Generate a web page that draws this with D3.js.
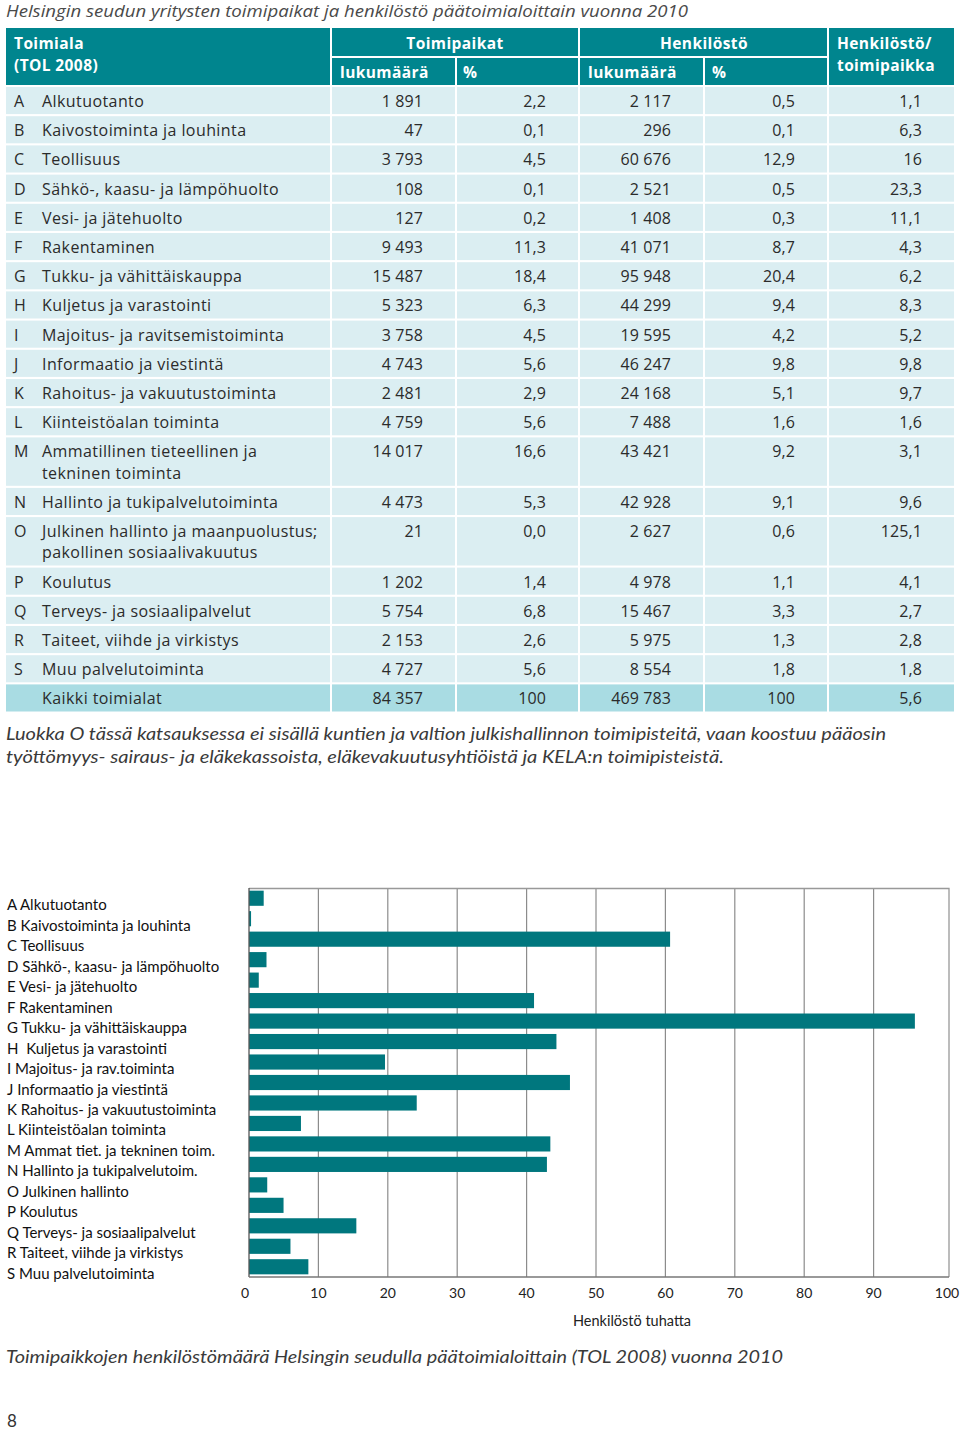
<!DOCTYPE html>
<html><head><meta charset="utf-8">
<script src="https://cdn.jsdelivr.net/npm/d3@7"></script>
<style>
body{margin:0;background:#fff;}
svg{display:block;}
</style></head><body>
<svg id="c" width="960" height="1431"></svg>
<script>
// ---------- DATA ----------
const codes = ["A","B","C","D","E","F","G","H","I","J","K","L","M","N","O","P","Q","R","S"];
const tableNames = [
  ["Alkutuotanto"],["Kaivostoiminta ja louhinta"],["Teollisuus"],["Sähkö-, kaasu- ja lämpöhuolto"],
  ["Vesi- ja jätehuolto"],["Rakentaminen"],["Tukku- ja vähittäiskauppa"],["Kuljetus ja varastointi"],
  ["Majoitus- ja ravitsemistoiminta"],["Informaatio ja viestintä"],["Rahoitus- ja vakuutustoiminta"],
  ["Kiinteistöalan toiminta"],["Ammatillinen tieteellinen ja","tekninen toiminta"],
  ["Hallinto ja tukipalvelutoiminta"],["Julkinen hallinto ja maanpuolustus;","pakollinen sosiaalivakuutus"],
  ["Koulutus"],["Terveys- ja sosiaalipalvelut"],["Taiteet, viihde ja virkistys"],["Muu palvelutoiminta"]
];
const toimipaikat = [1891,47,3793,108,127,9493,15487,5323,3758,4743,2481,4759,14017,4473,21,1202,5754,2153,4727];
const toimipaikatPct = [2.2,0.1,4.5,0.1,0.2,11.3,18.4,6.3,4.5,5.6,2.9,5.6,16.6,5.3,0.0,1.4,6.8,2.6,5.6];
const henkilosto = [2117,296,60676,2521,1408,41071,95948,44299,19595,46247,24168,7488,43421,42928,2627,4978,15467,5975,8554];
const henkilostoPct = [0.5,0.1,12.9,0.5,0.3,8.7,20.4,9.4,4.2,9.8,5.1,1.6,9.2,9.1,0.6,1.1,3.3,1.3,1.8];
const perToimipaikka = [1.1,6.3,16,23.3,11.1,4.3,6.2,8.3,5.2,9.8,9.7,1.6,3.1,9.6,125.1,4.1,2.7,2.8,1.8];
const totalLabel = "Kaikki toimialat";
const totals = [84357,100,469783,100,5.6];

const chartLabels = ["A Alkutuotanto","B Kaivostoiminta ja louhinta","C Teollisuus","D Sähkö-, kaasu- ja lämpöhuolto",
  "E Vesi- ja jätehuolto","F Rakentaminen","G Tukku- ja vähittäiskauppa","H  Kuljetus ja varastointi",
  "I Majoitus- ja rav.toiminta","J Informaatio ja viestintä","K Rahoitus- ja vakuutustoiminta",
  "L Kiinteistöalan toiminta","M Ammat tiet. ja tekninen toim.","N Hallinto ja tukipalvelutoim.",
  "O Julkinen hallinto","P Koulutus","Q Terveys- ja sosiaalipalvelut","R Taiteet, viihde ja virkistys","S Muu palvelutoiminta"];
const xTicks = [0,10,20,30,40,50,60,70,80,90,100];

const titleText = "Helsingin seudun yritysten toimipaikat ja henkilöstö päätoimialoittain vuonna 2010";
const noteLines = ["Luokka O tässä katsauksessa ei sisällä kuntien ja valtion julkishallinnon toimipisteitä, vaan koostuu pääosin",
  "työttömyys- sairaus- ja eläkekassoista, eläkevakuutusyhtiöistä ja KELA:n toimipisteistä."];
const chartCaption = "Toimipaikkojen henkilöstömäärä Helsingin seudulla päätoimialoittain (TOL 2008) vuonna 2010";
const axisTitle = "Henkilöstö tuhatta";
const pageNumber = "8";

// ---------- STYLE ----------
const TEAL = "#00858e", BAR = "#00777e", ROW = "#dbeef2", TOT = "#a9dce3", TXT = "#2b2b2b";
const TFONT = "'Open Sans', sans-serif";
const CFONT = "Lato, 'Noto Sans', sans-serif";

const svg = d3.select("#c");
const loc = d3.formatLocale({decimal: ",", thousands: " ", grouping: [3], currency: ["", ""]});
const fInt = loc.format(",d");
const fPct = v => v === 100 ? "100" : loc.format(".1f")(v);
const fRat = v => String(v).replace(".", ",");

// title
svg.append("text").attr("x", 6).attr("y", 17).text(titleText)
  .attr("font-family", TFONT).attr("font-style", "italic").attr("font-size", 15.5)
  .attr("fill", "#4a4a4a").attr("textLength", 682).attr("lengthAdjust", "spacingAndGlyphs");

// ---------- TABLE ----------
const cols = [[6,330],[332,455],[457,578],[580,703],[705,827],[829,954]];
const g = svg.append("g").attr("font-family", TFONT);
// header
const hdr = [
  {x0:6,x1:330,y0:28,y1:85},{x0:332,x1:578,y0:28,y1:56},{x0:580,x1:827,y0:28,y1:56},
  {x0:829,x1:954,y0:28,y1:85},{x0:332,x1:455,y0:58,y1:85},{x0:457,x1:578,y0:58,y1:85},
  {x0:580,x1:703,y0:58,y1:85},{x0:705,x1:827,y0:58,y1:85}];
g.selectAll("rect.h").data(hdr).join("rect").attr("x", d=>d.x0).attr("y", d=>d.y0)
  .attr("width", d=>d.x1-d.x0).attr("height", d=>d.y1-d.y0).attr("fill", TEAL);
const htxt = [
  {t:"Toimiala",x:14,y:49,a:"start"},{t:"(TOL 2008)",x:14,y:71,a:"start"},
  {t:"Toimipaikat",x:455,y:49,a:"middle"},{t:"Henkilöstö",x:704,y:49,a:"middle"},
  {t:"Henkilöstö/",x:837,y:49,a:"start"},{t:"toimipaikka",x:837,y:71,a:"start"},
  {t:"lukumäärä",x:340,y:78,a:"start"},{t:"%",x:463,y:78,a:"start"},
  {t:"lukumäärä",x:588,y:78,a:"start"},{t:"%",x:712,y:78,a:"start"}];
g.selectAll("text.h").data(htxt).join("text").attr("x", d=>d.x).attr("y", d=>d.y)
  .attr("text-anchor", d=>d.a).text(d=>d.t).attr("fill", "#fff").attr("font-weight", 700)
  .attr("font-size", 15.5).attr("letter-spacing", 0.4);

// body rows
const PITCH = 29.1, LINE = 21.3;
let yy = 87;
const rows = codes.map((c, i) => {
  const h = PITCH - 2 + (tableNames[i].length - 1) * LINE;
  const r = {code: c, names: tableNames[i], y: yy, h: h,
    vals: [fInt(toimipaikat[i]), fPct(toimipaikatPct[i]), fInt(henkilosto[i]), fPct(henkilostoPct[i]), fRat(perToimipaikka[i])],
    fill: ROW};
  yy += h + 2.1;
  return r;
});
rows.push({code: "", names: [totalLabel], y: yy, h: PITCH - 2,
  vals: [fInt(totals[0]), fPct(totals[1]), fInt(totals[2]), fPct(totals[3]), fRat(totals[4])], fill: TOT});

const rg = g.selectAll("g.row").data(rows).join("g").attr("transform", d => `translate(0,${d.y})`);
rg.selectAll("rect").data(d => cols.map(c => ({c, d}))).join("rect")
  .attr("x", e => e.c[0]).attr("width", e => e.c[1]-e.c[0]).attr("height", e => e.d.h).attr("fill", e => e.d.fill);
const fs = 16;
rg.append("text").attr("x", 14).attr("y", 20).text(d => d.code).attr("font-size", fs).attr("fill", TXT);
rg.each(function(d){
  const sel = d3.select(this);
  d.names.forEach((n, k) => sel.append("text").attr("x", 42).attr("y", 20 + k*LINE).text(n)
    .attr("font-size", fs).attr("fill", TXT).attr("letter-spacing", 0.42));
  d.vals.forEach((v, k) => sel.append("text").attr("x", cols[k+1][1] - 32).attr("y", 20)
    .attr("text-anchor", "end").text(v).attr("font-size", fs).attr("fill", TXT).attr("letter-spacing", 0.1));
});

// note
svg.selectAll("text.note").data(noteLines).join("text").attr("class", "note")
  .attr("x", 6).attr("y", (d, i) => 740 + i*23).text(d => d)
  .attr("font-family", CFONT).attr("font-style", "italic").attr("font-size", 17).attr("fill", "#3a3a3a")
  .attr("textLength", (d, i) => i === 0 ? 880 : 718).attr("lengthAdjust", "spacingAndGlyphs");

// ---------- BAR CHART ----------
const x = d3.scaleLinear().domain([0, 100]).range([249, 943]);
const y = d3.scaleBand().domain(codes).range([888, 1277]).paddingInner(0.26).paddingOuter(0.13);
const cg = svg.append("g").attr("font-family", CFONT);
// gridlines
cg.selectAll("line.grid").data(xTicks.filter(t => t > 0 && t < 100)).join("line")
  .attr("x1", d => x(d)).attr("x2", d => x(d)).attr("y1", 888).attr("y2", 1277)
  .attr("stroke", "#8c8c8c").attr("stroke-width", 1.2);
// frame top & right
cg.append("path").attr("d", `M249,888.5H949V1277`).attr("fill", "none").attr("stroke", "#999").attr("stroke-width", 1.3);
// bars
cg.selectAll("rect.bar").data(codes).join("rect")
  .attr("x", x(0)).attr("y", d => y(d)).attr("height", y.bandwidth())
  .attr("width", (d, i) => x(henkilosto[i] / 1000) - x(0)).attr("fill", BAR);
// axes lines
cg.append("line").attr("x1", 249).attr("x2", 249).attr("y1", 888).attr("y2", 1277).attr("stroke", "#555").attr("stroke-width", 1.3);
cg.append("line").attr("x1", 249).attr("x2", 949).attr("y1", 1277).attr("y2", 1277).attr("stroke", "#777").attr("stroke-width", 1.3);
// tick labels
cg.selectAll("text.tick").data(xTicks).join("text")
  .attr("x", d => d === 100 ? x(d) + 4 : x(d) - (d === 0 ? 4 : 0)).attr("y", 1298).attr("text-anchor", "middle")
  .text(d => d).attr("font-size", 14).attr("fill", "#222");
cg.append("text").attr("x", 632).attr("y", 1326).attr("text-anchor", "middle").text(axisTitle)
  .attr("font-size", 14.5).attr("fill", "#222");
// category labels
cg.selectAll("text.cat").data(chartLabels).join("text")
  .attr("x", 7).attr("y", (d, i) => y(codes[i]) + y.bandwidth()/2 + 12).text(d => d)
  .attr("font-size", 15).attr("fill", "#111").attr("xml:space", "preserve").style("white-space", "pre");

// caption & page number
svg.append("text").attr("x", 6).attr("y", 1363).text(chartCaption)
  .attr("font-family", CFONT).attr("font-style", "italic").attr("font-size", 17).attr("fill", "#3a3a3a")
  .attr("textLength", 777).attr("lengthAdjust", "spacingAndGlyphs");
svg.append("text").attr("x", 7).attr("y", 1427).text(pageNumber)
  .attr("font-family", CFONT).attr("font-size", 17).attr("fill", "#333");
</script></body></html>
